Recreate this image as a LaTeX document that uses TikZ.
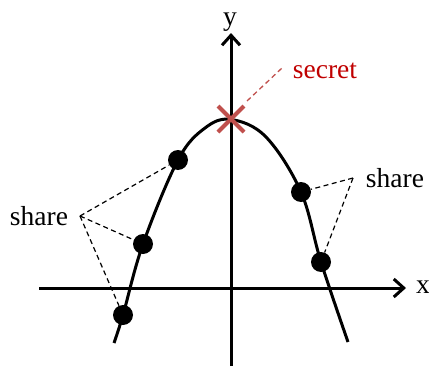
\documentclass[tikz,border=0pt]{standalone}
\usepackage{fontspec}
\setmainfont{Liberation Serif}
\usetikzlibrary{arrows.meta}
\definecolor{xred}{HTML}{C0504D}
\definecolor{tred}{HTML}{C00000}
\begin{document}
\begin{tikzpicture}[x=1pt,y=-1pt,
  lbl/.style={font=\fontsize{27.5}{30}\selectfont, anchor=base, inner sep=0pt},
  axis/.style={line width=3pt, -{Straight Barb[length=10pt,width=18pt,line width=3pt]}},
  dot/.style={circle, fill=black, inner sep=0pt, minimum size=20pt},
  sharelink/.style={dash pattern=on 5pt off 3.5pt, line width=1.2pt},
  curve/.style={line width=3pt}]
\useasboundingbox (0,0) rectangle (429,367);
% axes
\coordinate (xs) at (39,288);
\coordinate (xe) at (406,288);
\coordinate (ys) at (231,366);
\coordinate (ye) at (231,33);
\draw[axis] (xs) -- (xe);
\draw[axis] (ys) -- (ye);
\node[lbl] (xl) at (423,293) {x};
\node[lbl] (yl) at (230,25) {y};
% curve
\draw[curve] plot[smooth, tension=0.6] coordinates {(114,343) (123,315) (143,244) (178,160) (205,128) (231,119.5) (266,137) (301,192) (321,262) (348,342)};
% dots
\node[dot] (d1) at (178,160) {};
\node[dot] (d2) at (143,244) {};
\node[dot] (d3) at (123,315) {};
\node[dot] (d4) at (301,192) {};
\node[dot] (d5) at (321,262) {};
% share labels
\node[lbl] (sl) at (39,225) {share};
\node[lbl] (sr) at (395,187) {share};
\coordinate (al) at (80,216);
\coordinate (ar) at (353,178);
\draw[sharelink] (al) -- (d1);
\draw[sharelink] (al) -- (d2);
\draw[sharelink] (al) -- (d3);
\draw[sharelink] (ar) -- (d4);
\draw[sharelink] (ar) -- (d5);
% secret
\coordinate (v) at (231,119);
\draw[xred, line width=4pt] (218,106) -- (244,132) (218,132) -- (244,106);
\node[lbl, text=tred] (sec) at (325,78) {secret};
\coordinate (sa) at (282,68);
\draw[xred, sharelink, line width=1.3pt] (247,101) -- (sa);
\end{tikzpicture}
\end{document}
